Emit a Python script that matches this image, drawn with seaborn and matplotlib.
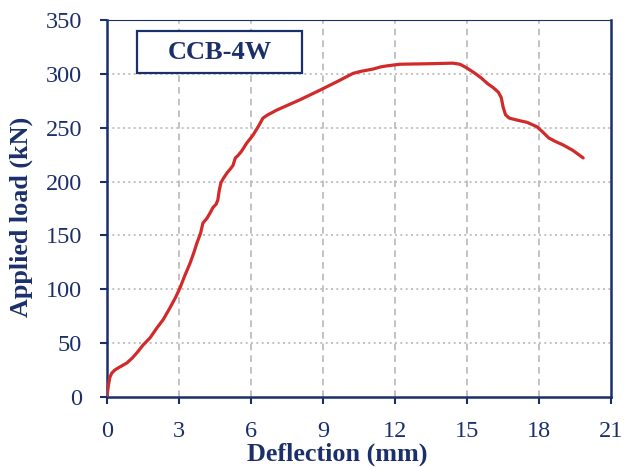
import numpy as np
import pandas as pd
import matplotlib
matplotlib.use('Agg')
import matplotlib.pyplot as plt
import seaborn as sns

# Load-deflection curve (mm, kN)
deflection = [0.0, 0.06, 0.12, 0.2, 0.33, 0.55, 0.83, 1.05, 1.25, 1.5, 1.8, 2.08, 2.35,
              2.62, 2.85, 3.04, 3.25, 3.46, 3.62, 3.75, 3.9, 4.0, 4.17, 4.3, 4.42,
              4.55, 4.62, 4.68, 4.75, 4.85, 5.0, 5.15, 5.25, 5.35, 5.45, 5.6, 5.83,
              6.08, 6.3, 6.5, 6.7, 7.08, 8.04, 8.88, 9.6, 10.25, 10.6, 11.08, 11.4,
              11.67, 12.2, 13.5, 14.4, 14.7, 14.95, 15.3, 15.6, 15.85, 16.1, 16.3,
              16.42, 16.5, 16.6, 16.75, 17.1, 17.5, 17.9, 18.15, 18.4, 18.7, 19.0,
              19.4, 19.83]
load = [0, 10, 18, 22, 25, 28, 31.5, 36, 41, 48, 55, 64, 72,
        82.5, 92, 101, 113, 124, 134, 143, 152, 161.5, 166, 171, 176,
        179, 183, 192, 199, 203, 208, 212, 215, 222, 224, 228, 236,
        243, 251, 259, 262, 266.5, 276, 285, 293, 300.5, 302.5, 304.5, 306.5,
        307.5, 309, 309.5, 310, 309, 306, 301, 296, 291, 287, 283,
        278, 269, 262, 259, 257, 255, 251, 246, 240.5, 237, 234,
        229, 222]

x_ticks = [0, 3, 6, 9, 12, 15, 18, 21]
y_ticks = [0, 50, 100, 150, 200, 250, 300, 350]
label = 'CCB-4W'

navy = '#1B2F6B'
red = '#D12A2A'

df = pd.DataFrame({'Deflection': deflection, 'Load': load})

sns.set_style('white')
plt.rcParams['font.family'] = ['Liberation Serif', 'DejaVu Serif']

fig = plt.figure(figsize=(6.25, 4.67), dpi=100)
ax = fig.add_axes([0.171, 0.15, 0.807, 0.807])

sns.lineplot(data=df, x='Deflection', y='Load', sort=False, estimator=None,
             color=red, linewidth=2.3, ax=ax, zorder=3)

ax.set_xlim(0, 21)
ax.set_ylim(0, 350)
ax.set_xticks(x_ticks)
ax.set_yticks(y_ticks)

# dashed vertical grid, dotted horizontal grid
for xv in x_ticks[1:-1]:
    ax.axvline(xv, color='#B8B8B8', lw=1.2, ls=(0, (4, 3)), zorder=1)
for yv in y_ticks[1:-1]:
    ax.axhline(yv, color='#B8B8B8', lw=1.2, ls=(0, (1.2, 2)), zorder=1)

for side in ['left', 'bottom', 'right']:
    ax.spines[side].set_color(navy)
    ax.spines[side].set_linewidth(1.8)
ax.spines['top'].set_color(navy)
ax.spines['top'].set_linewidth(0.8)

ax.tick_params(axis='both', colors=navy, labelsize=17.5, direction='out',
               length=5, width=1.5, labelcolor=navy, bottom=True, left=True)
ax.tick_params(axis='x', pad=12.5)
ax.tick_params(axis='y', pad=13)

ax.set_xlabel('Deflection (mm)', fontsize=18.8, fontweight='bold', color=navy)
ax.set_ylabel('Applied load (kN)', fontsize=18.8, fontweight='bold', color=navy)
# labels sit a bit off-centre in the original
ax.xaxis.set_label_coords(0.456, -0.122)
ax.yaxis.set_label_coords(-0.147, 0.479)

ax.text(0.223, 0.915, label, transform=ax.transAxes, ha='center', va='center',
        fontsize=19, fontweight='bold', color=navy, zorder=5)
ax.add_patch(plt.Rectangle((0.06, 0.86), 0.327, 0.111, transform=ax.transAxes,
                           fill=True, fc='white', ec=navy, lw=1.6, zorder=4))

plt.savefig('out.png', dpi=100)
